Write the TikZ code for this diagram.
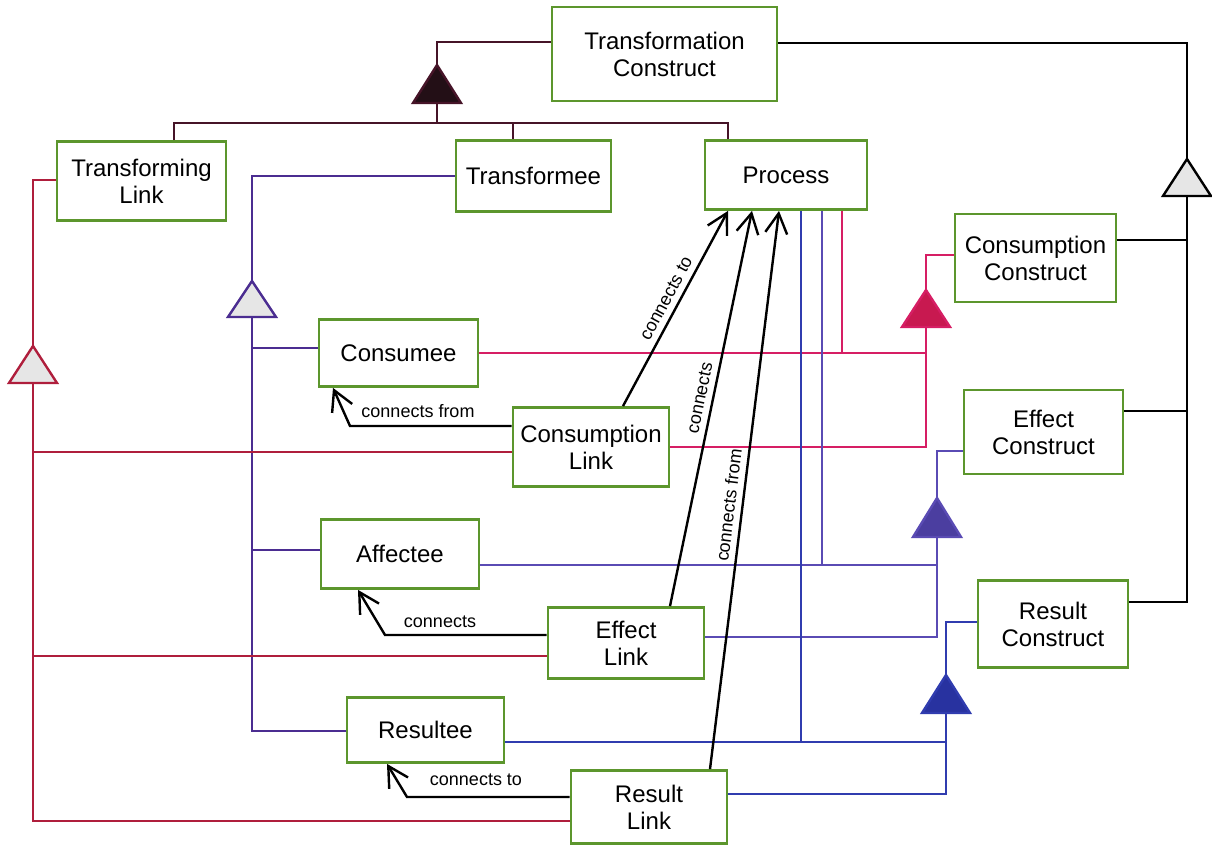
\documentclass[tikz,border=0pt]{standalone}
\usepackage{fontspec}
\setmainfont{Liberation Sans}
\usetikzlibrary{arrows.meta,calc}
\definecolor{boxgreen}{RGB}{92,150,45}
\definecolor{topc}{RGB}{70,20,40}
\definecolor{topfill}{RGB}{35,15,22}
\definecolor{consc}{RGB}{214,30,100}
\definecolor{consfill}{RGB}{200,25,80}
\definecolor{effc}{RGB}{90,75,180}
\definecolor{efffill}{RGB}{75,62,160}
\definecolor{resc}{RGB}{48,60,175}
\definecolor{resfill}{RGB}{40,50,160}
\definecolor{teec}{RGB}{75,45,145}
\definecolor{tlc}{RGB}{175,30,60}
\definecolor{trigray}{RGB}{230,230,230}
\newcommand\mytri[4]{% base-centre coordinate, apex coordinate, fill, draw
  \draw[tri, draw=#4, fill=#3] (#2) -- ($(#1)+(-24,0)$) -- ($(#1)+(24,0)$) -- cycle;}
\begin{document}
\begin{tikzpicture}[x=0.5pt,y=-0.5pt,
  box/.style={draw=boxgreen, line width=1.4pt, fill=white, align=center,
    font=\fontsize{12}{13.5}\selectfont, inner sep=2pt},
  ln/.style={line width=1.2pt},
  tri/.style={line width=1.2pt, line join=miter},
  lbl/.style={font=\fontsize{9}{10}\selectfont, inner sep=1pt},
  conn/.style={line width=1.2pt, draw=black, -{Straight Barb[length=10pt,width=11pt]}},
]
\useasboundingbox (0,0) rectangle (1212,845);

% ---------- boxes ----------
\node[box, minimum width=112.5pt, minimum height=47pt] (TC) at (664.5,54) {Transformation\\Construct};
\node[box, minimum width=84.5pt, minimum height=39.5pt] (TL) at (141.5,181) {Transforming\\Link};
\node[box, minimum width=77.5pt, minimum height=35.5pt] (TE) at (533.5,176) {Transformee};
\node[box, minimum width=81pt, minimum height=34.5pt] (PR) at (786,175) {Process};
\node[box, minimum width=80.5pt, minimum height=44pt] (CC) at (1035.5,258) {Consumption\\Construct};
\node[box, minimum width=79.5pt, minimum height=33.5pt] (CE) at (398.5,353) {Consumee};
\node[box, minimum width=78pt, minimum height=39.5pt] (CL) at (591,447) {Consumption\\Link};
\node[box, minimum width=79.5pt, minimum height=42pt] (EC) at (1043.5,432) {Effect\\Construct};
\node[box, minimum width=79pt, minimum height=34.5pt] (AE) at (400,554) {Affectee};
\node[box, minimum width=78pt, minimum height=35.5pt] (EL) at (626,643) {Effect\\Link};
\node[box, minimum width=75pt, minimum height=43.5pt] (RC) at (1053,624) {Result\\Construct};
\node[box, minimum width=78.5pt, minimum height=32.5pt] (RE) at (425.5,730) {Resultee};
\node[box, minimum width=78pt, minimum height=36.5pt] (RL) at (649,807) {Result\\Link};

% ---------- coordinates ----------
\coordinate (tA) at (437,65);  \coordinate (tB) at (437,103); \coordinate (tU) at (437,42);
\coordinate (tBus) at (437,123);
\coordinate (bL) at (174,123); \coordinate (bM) at (513,123); \coordinate (bR) at (728,123);

\coordinate (kA) at (1187,159); \coordinate (kB) at (1187,196); \coordinate (kU) at (1187,43);
\coordinate (kC) at (1187,240); \coordinate (kE) at (1187,411); \coordinate (kR) at (1187,602);

\coordinate (cA) at (926,290); \coordinate (cB) at (926,327); \coordinate (cU) at (926,255);
\coordinate (cJ) at (926,353); \coordinate (cL) at (926,447); \coordinate (pP) at (842,353);

\coordinate (eA) at (937,498); \coordinate (eB) at (937,537); \coordinate (eU) at (937,451);
\coordinate (eJ) at (937,565); \coordinate (eL) at (937,637); \coordinate (pE) at (822,565);

\coordinate (rA) at (946,675); \coordinate (rB) at (946,713); \coordinate (rU) at (946,622);
\coordinate (rJ) at (946,742); \coordinate (rL) at (946,794); \coordinate (pR) at (801,742);

\coordinate (vA) at (252,281); \coordinate (vB) at (252,317); \coordinate (vU) at (252,176);
\coordinate (v1) at (252,348); \coordinate (v2) at (252,550); \coordinate (vL) at (252,731);

\coordinate (lA) at (33,346); \coordinate (lB) at (33,383); \coordinate (lU) at (33,180);
\coordinate (l1) at (33,452); \coordinate (l2) at (33,656); \coordinate (lL) at (33,821);

% ---------- transformation construct hierarchy ----------
\draw[ln,topc] (tA) -- (tU) -- (tU -| TC.west);
\draw[ln,topc] (tB) -- (tBus);
\draw[ln,topc] (bL |- TL.north) -- (bL) -- (bR) -- (bR |- PR.north);
\draw[ln,topc] (bM) -- (bM |- TE.north);

% ---------- right (black) hierarchy ----------
\draw[ln] (TC.east |- kU) -- (kU) -- (kA);
\draw[ln] (kB) -- (kR) -- (kR -| RC.east);
\draw[ln] (kC -| CC.east) -- (kC);
\draw[ln] (kE -| EC.east) -- (kE);

% ---------- consumption ----------
\draw[ln,consc] (cA) -- (cU) -- (cU -| CC.west);
\draw[ln,consc] (cB) -- (cL) -- (cL -| CL.east);
\draw[ln,consc] (cJ -| CE.east) -- (cJ);
\draw[ln,consc] (pP |- PR.south) -- (pP);

% ---------- effect ----------
\draw[ln,effc] (eA) -- (eU) -- (eU -| EC.west);
\draw[ln,effc] (eB) -- (eL) -- (eL -| EL.east);
\draw[ln,effc] (eJ -| AE.east) -- (eJ);
\draw[ln,effc] (pE |- PR.south) -- (pE);

% ---------- result ----------
\draw[ln,resc] (rA) -- (rU) -- (rU -| RC.west);
\draw[ln,resc] (rB) -- (rL) -- (rL -| RL.east);
\draw[ln,resc] (rJ -| RE.east) -- (rJ);
\draw[ln,resc] (pR |- PR.south) -- (pR);

% ---------- transformee ----------
\draw[ln,teec] (vA) -- (vU) -- (vU -| TE.west);
\draw[ln,teec] (vB) -- (vL) -- (vL -| RE.west);
\draw[ln,teec] (v1) -- (v1 -| CE.west);
\draw[ln,teec] (v2) -- (v2 -| AE.west);

% ---------- transforming link ----------
\draw[ln,tlc] (lA) -- (lU) -- (lU -| TL.west);
\draw[ln,tlc] (lB) -- (lL) -- (lL -| RL.west);
\draw[ln,tlc] (l1) -- (l1 -| CL.west);
\draw[ln,tlc] (l2) -- (l2 -| EL.west);

% ---------- triangles ----------
\mytri{tB}{tA}{topfill}{topc}
\mytri{kB}{kA}{trigray}{black}
\mytri{cB}{cA}{consfill}{consc}
\mytri{eB}{eA}{efffill}{effc}
\mytri{rB}{rA}{resfill}{resc}
\mytri{vB}{vA}{trigray}{teec}
\mytri{lB}{lA}{trigray}{tlc}

% ---------- connects arrows ----------
\coordinate (a1) at (350,426); \coordinate (a1t) at (333,388);
\draw[conn] (a1 -| CL.west) -- (a1) -- (a1t |- CE.south);
\node[lbl] (lab1) at (418,411) {connects from};

\coordinate (a2) at (385,635); \coordinate (a2t) at (358,589);
\draw[conn] (a2 -| EL.west) -- (a2) -- (a2t |- AE.south);
\node[lbl] (lab2) at (440,622) {connects};

\coordinate (a3) at (407,797); \coordinate (a3t) at (387,763);
\draw[conn] (a3 -| RL.west) -- (a3) -- (a3t |- RE.south);
\node[lbl] (lab3) at (476,780) {connects to};

\draw[conn] ($(CL.north)+(32,0)$) -- node[lbl, sloped, above=2pt, pos=0.52] (lab4) {connects to} ($(PR.south)+(-58,0)$);
\draw[conn] ($(EL.north)+(44,0)$) -- node[lbl, sloped, above=2pt, pos=0.52] (lab5) {connects} ($(PR.south)+(-34,0)$);
\draw[conn] ($(RL.north)+(61,0)$) -- node[lbl, sloped, above=2pt, pos=0.47] (lab6) {connects from} ($(PR.south)+(-7,0)$);
\end{tikzpicture}
\end{document}
